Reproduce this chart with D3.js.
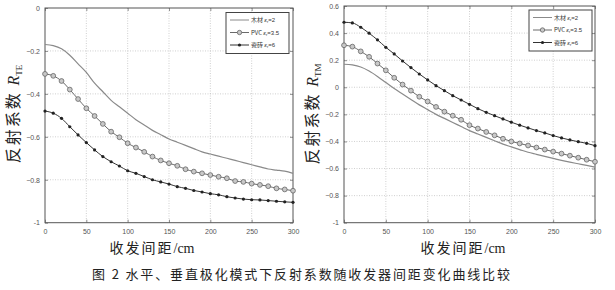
<!DOCTYPE html>
<html>
<head>
<meta charset="utf-8">
<script src="https://cdn.jsdelivr.net/npm/d3@7"></script>
<style>
  body { margin: 0; background: #fff; }
  svg { display: block; }
</style>
</head>
<body>
<div id="chart"></div>
<script>
// distance between transmitter and receiver, cm
const distance = [0, 10, 20, 30, 40, 50, 60, 70, 80, 90, 100, 110, 120, 130, 140, 150,
                  160, 170, 180, 190, 200, 210, 220, 230, 240, 250, 260, 270, 280, 290, 300]

// horizontal polarisation R_TE
const teWood = [-0.17, -0.175, -0.19, -0.22, -0.26, -0.30, -0.35, -0.39, -0.43, -0.46, -0.49,
                -0.52, -0.545, -0.57, -0.59, -0.61, -0.625, -0.64, -0.655, -0.67, -0.68,
                -0.69, -0.70, -0.71, -0.72, -0.73, -0.74, -0.75, -0.755, -0.76, -0.77]
const tePvc = [-0.307, -0.316, -0.34, -0.38, -0.424, -0.467, -0.503, -0.54, -0.576, -0.602, -0.63,
               -0.65, -0.67, -0.692, -0.71, -0.723, -0.735, -0.751, -0.762, -0.77, -0.778,
               -0.786, -0.793, -0.806, -0.81, -0.818, -0.824, -0.83, -0.84, -0.845, -0.851]
const teTile = [-0.48, -0.49, -0.514, -0.553, -0.591, -0.627, -0.661, -0.692, -0.716, -0.736, -0.758,
                -0.77, -0.785, -0.80, -0.81, -0.82, -0.832, -0.84, -0.85, -0.857, -0.865,
                -0.87, -0.879, -0.885, -0.89, -0.893, -0.894, -0.897, -0.90, -0.903, -0.905]

// vertical polarisation R_TM
const tmWood = [0.17, 0.165, 0.15, 0.12, 0.08, 0.035, -0.01, -0.05, -0.09, -0.13, -0.165,
                -0.2, -0.23, -0.26, -0.29, -0.32, -0.345, -0.37, -0.395, -0.42, -0.44,
                -0.46, -0.48, -0.495, -0.51, -0.525, -0.54, -0.553, -0.565, -0.577, -0.59]
const tmPvc = [0.31, 0.30, 0.265, 0.225, 0.175, 0.125, 0.07, 0.02, -0.025, -0.07, -0.105,
               -0.145, -0.18, -0.21, -0.24, -0.28, -0.305, -0.33, -0.355, -0.38, -0.40,
               -0.415, -0.43, -0.445, -0.46, -0.475, -0.49, -0.505, -0.52, -0.535, -0.55]
const tmTile = [0.48, 0.475, 0.443, 0.399, 0.35, 0.295, 0.246, 0.194, 0.145, 0.098, 0.054,
                0.012, -0.025, -0.062, -0.094, -0.126, -0.158, -0.185, -0.21, -0.234, -0.258,
                -0.28, -0.30, -0.32, -0.337, -0.357, -0.374, -0.389, -0.402, -0.414, -0.431]

const xTicks = [0, 50, 100, 150, 200, 250, 300]
const teTicks = [0, -0.2, -0.4, -0.6, -0.8, -1]
const tmTicks = [0.6, 0.4, 0.2, 0, -0.2, -0.4, -0.6, -0.8, -1]

const materials = ['木材', 'PVC', '瓷砖']
const permittivity = ['2', '3.5', '6']

const width = 615, height = 290

const svg = d3.select('#chart')
              .append('svg')
              .attr('width', width)
              .attr('height', height)
              .style('font-family', 'Arial, "Liberation Sans", sans-serif')

function drawPanel(opts) {
  const xScale = d3.scaleLinear().domain([0, 300]).range([opts.left, opts.right]),
        yScale = d3.scaleLinear().domain(opts.domain).range([opts.bottom, opts.top])

  const g = svg.append('g')

  // dotted grid
  g.append('g').selectAll('line').data(xTicks.slice(1, -1)).enter().append('line')
   .attr('x1', d => xScale(d)).attr('x2', d => xScale(d))
   .attr('y1', opts.top).attr('y2', opts.bottom)
   .attr('stroke', '#bbb').attr('stroke-width', 0.7).attr('stroke-dasharray', '1,1.5')
  g.append('g').selectAll('line').data(opts.ticks.slice(1, -1)).enter().append('line')
   .attr('x1', opts.left).attr('x2', opts.right)
   .attr('y1', d => yScale(d)).attr('y2', d => yScale(d))
   .attr('stroke', '#bbb').attr('stroke-width', 0.7).attr('stroke-dasharray', '1,1.5')

  // axes, MATLAB style ticks pointing inward
  const xAxis = d3.axisBottom(xScale).tickValues(xTicks).tickSize(-3).tickPadding(6)
                  .tickFormat(d3.format('d'))
  const yAxis = d3.axisLeft(yScale).tickValues(opts.ticks).tickSize(-3).tickPadding(5)
                  .tickFormat(d => d === 0 ? '0' : (d === -1 ? '-1' : d3.format('.1f')(d)))

  g.append('g').attr('transform', 'translate(0,' + opts.bottom + ')').call(xAxis)
  g.append('g').attr('transform', 'translate(' + opts.left + ',0)').call(yAxis)
  g.append('g').attr('transform', 'translate(0,' + opts.top + ')')
   .call(d3.axisTop(xScale).tickValues(xTicks).tickSize(-3).tickFormat(''))
  g.append('g').attr('transform', 'translate(' + opts.right + ',0)')
   .call(d3.axisRight(yScale).tickValues(opts.ticks).tickSize(-3).tickFormat(''))

  g.selectAll('.domain').remove()
  g.selectAll('.tick line').attr('stroke', '#666').attr('stroke-width', 0.7)
  g.selectAll('.tick text').attr('fill', '#555').style('font-size', '7px')

  g.append('rect')
   .attr('x', opts.left).attr('y', opts.top)
   .attr('width', opts.right - opts.left).attr('height', opts.bottom - opts.top)
   .attr('fill', 'none').attr('stroke', '#555').attr('stroke-width', 1)

  const line = d3.line()
                 .x((d, i) => xScale(distance[i]))
                 .y(d => yScale(d))
                 .curve(d3.curveMonotoneX)

  // wood: plain line
  g.append('path').datum(opts.wood).attr('d', line)
   .attr('fill', 'none').attr('stroke', '#8a8a8a').attr('stroke-width', 1.2)

  // PVC: line with circles
  g.append('path').datum(opts.pvc).attr('d', line)
   .attr('fill', 'none').attr('stroke', '#6a6a6a').attr('stroke-width', 1)
  g.append('g').selectAll('circle').data(opts.pvc).enter().append('circle')
   .attr('cx', (d, i) => xScale(distance[i])).attr('cy', d => yScale(d))
   .attr('r', 2.4).attr('fill', '#c8c8c8').attr('stroke', '#666').attr('stroke-width', 0.8)

  // tile: dark line with dots
  g.append('path').datum(opts.tile).attr('d', line)
   .attr('fill', 'none').attr('stroke', '#333').attr('stroke-width', 1)
  g.append('g').selectAll('circle').data(opts.tile).enter().append('circle')
   .attr('cx', (d, i) => xScale(distance[i])).attr('cy', d => yScale(d))
   .attr('r', 1.6).attr('fill', '#222')

  // legend
  const lg = g.append('g').attr('transform', 'translate(' + opts.legend[0] + ',' + opts.legend[1] + ')')
  lg.append('rect').attr('width', 63).attr('height', 41)
    .attr('fill', '#fff').attr('stroke', '#444').attr('stroke-width', 1)
  materials.forEach(function(m, i) {
    const y = 7.5 + i * 12.5
    const styles = [['#8a8a8a', null], ['#6a6a6a', 'c'], ['#333', 'd']]
    lg.append('line').attr('x1', 4).attr('x2', 23).attr('y1', y).attr('y2', y)
      .attr('stroke', styles[i][0]).attr('stroke-width', 1)
    if (styles[i][1] === 'c') {
      lg.append('circle').attr('cx', 13.5).attr('cy', y).attr('r', 2.2)
        .attr('fill', '#c8c8c8').attr('stroke', '#666').attr('stroke-width', 0.8)
    } else if (styles[i][1] === 'd') {
      lg.append('circle').attr('cx', 13.5).attr('cy', y).attr('r', 1.6).attr('fill', '#222')
    }
    const t = lg.append('text').attr('x', 25).attr('y', y + 2.2)
                .style('font-size', '6px').attr('fill', '#333')
    t.append('tspan').text(m + ' ')
     .style('font-family', '"Noto Sans CJK SC", sans-serif')
    t.append('tspan').text('ε').style('font-style', 'italic')
    t.append('tspan').text('r').attr('dy', 1.2).style('font-size', '4px')
    t.append('tspan').text('=' + permittivity[i]).attr('dy', -1.2)
  })

  // y title
  const yt = svg.append('text')
                .attr('transform', 'translate(' + opts.titleX + ',' + opts.titleY + ') rotate(-90)')
                .attr('text-anchor', 'middle')
                .attr('fill', '#222')
                .style('font-size', '16px')
  yt.append('tspan').text('反射系数 ')
    .style('font-family', '"Noto Sans CJK SC", sans-serif').style('letter-spacing', '2px')
  yt.append('tspan').text('R').style('font-family', '"Liberation Serif", serif').style('font-style', 'italic')
  yt.append('tspan').text(opts.sub).attr('dy', 3).style('font-size', '9px')
    .style('font-family', '"Liberation Serif", serif')

  // x title
  const xt = svg.append('text')
                .attr('x', opts.xTitleX).attr('y', 253)
                .attr('text-anchor', 'middle')
                .attr('fill', '#222')
                .style('font-size', '14px')
  xt.append('tspan').text('收发间距').style('font-family', '"Noto Sans CJK SC", sans-serif')
    .style('letter-spacing', '2px')
  xt.append('tspan').text('/cm').style('font-family', '"Liberation Serif", serif')
}

drawPanel({
  left: 45, right: 293, top: 8, bottom: 222.7,
  domain: [-1, 0], ticks: teTicks,
  wood: teWood, pvc: tePvc, tile: teTile,
  legend: [226, 12.5], titleX: 19, titleY: 114, sub: 'TE', xTitleX: 152
})

drawPanel({
  left: 344, right: 595, top: 6, bottom: 222.7,
  domain: [-1, 0.6], ticks: tmTicks,
  wood: tmWood, pvc: tmPvc, tile: tmTile,
  legend: [529, 10], titleX: 318, titleY: 114, sub: 'TM', xTitleX: 463
})

// figure caption
svg.append('text')
   .attr('x', 92).attr('y', 279)
   .attr('textLength', 418)
   .attr('lengthAdjust', 'spacing')
   .attr('fill', '#222')
   .style('font-size', '13px')
   .style('font-family', '"Noto Sans CJK SC", sans-serif')
   .text('图 2  水平、垂直极化模式下反射系数随收发器间距变化曲线比较')
</script>
</body>
</html>
